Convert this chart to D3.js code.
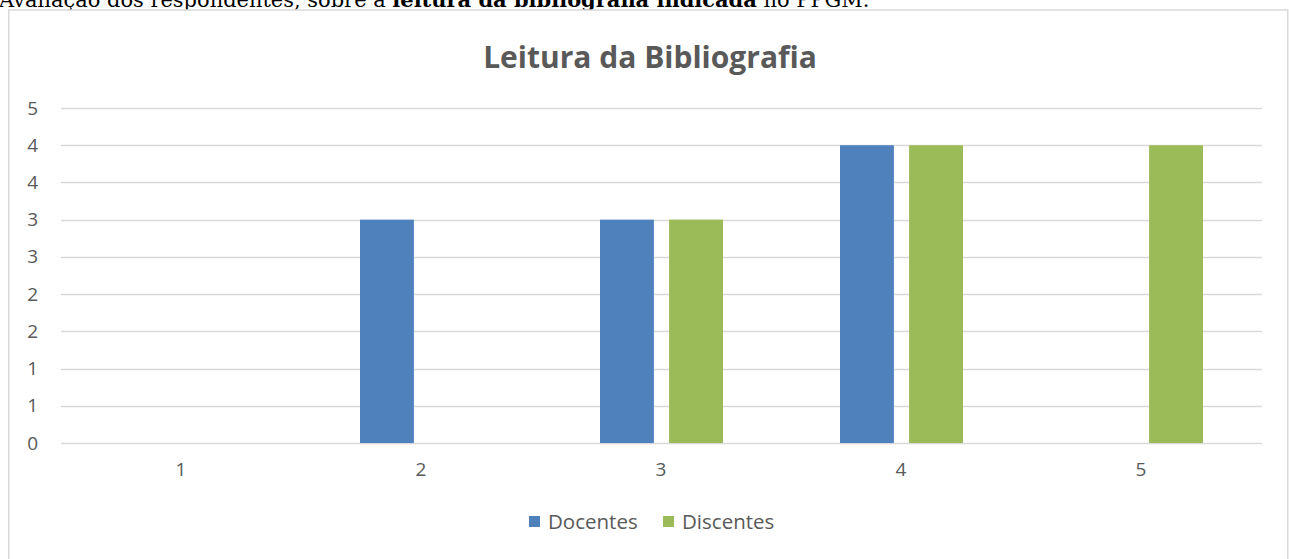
<!DOCTYPE html>
<html><head><meta charset="utf-8">
<script src="https://cdn.jsdelivr.net/npm/d3@7"></script>
<style>
html,body{margin:0;padding:0;background:#fff;overflow:hidden}
svg{display:block}
</style></head>
<body>
<svg id="c" width="1289" height="559"></svg>
<script>
const categories = ["1","2","3","4","5"];
const seriesNames = ["Docentes","Discentes"];
const docentes = [0,3,3,4,0];
const discentes = [0,0,3,4,4];
const yTicks = [0,0.5,1,1.5,2,2.5,3,3.5,4,4.5];
const yTickLabels = ["0","1","1","2","2","3","3","4","4","5"];
const colors = ["#4f81bd","#9bbb59"];
const title = "Leitura da Bibliografia";

const svg = d3.select("#c");
const font = "'Open Sans', sans-serif";

// document heading (cut off at top, as in the source page)
const head = svg.append("text").attr("x",-1).attr("y",7)
  .attr("font-family","'DejaVu Serif', serif").attr("font-size",20).attr("fill","#000");
head.append("tspan").text("Avaliação dos respondentes, sobre a ");
head.append("tspan").attr("font-weight","bold").text("leitura da bibliografia indicada");
head.append("tspan").text(" no PPGM.");
const hl = head.node().getComputedTextLength();
if (hl > 0) head.attr("font-size", 20 * 871 / hl);

// chart border
svg.append("rect").attr("x",8.75).attr("y",10).attr("width",1279).attr("height",560)
  .attr("fill","#fff").attr("stroke","#d9d9d9").attr("stroke-width",1.5);

const x0 = d3.scaleBand().domain(categories).range([61,1261]);
const x1 = d3.scaleBand().domain(seriesNames).range([x0.bandwidth()/2-61, x0.bandwidth()/2+62]).paddingInner(0.22);
const y = d3.scaleLinear().domain([0,4.5]).range([443,108]);

// gridlines
svg.append("g").selectAll("line").data(yTicks).join("line")
  .attr("x1",61).attr("x2",1262)
  .attr("y1",d=>Math.round(y(d))+0.5).attr("y2",d=>Math.round(y(d))+0.5)
  .attr("stroke","#d9d9d9").attr("stroke-width",1.3);

// y axis labels
const yAxis = d3.axisLeft(y).tickValues(yTicks).tickSize(0).tickPadding(0)
  .tickFormat((d,i)=>yTickLabels[i]);
const gy = svg.append("g").attr("transform","translate(38,0)").call(yAxis);
gy.select(".domain").remove();
gy.selectAll("text").attr("font-family",font).attr("font-size",19).attr("fill","#595959");

// x axis labels
const xAxis = d3.axisBottom(x0).tickSize(0).tickPadding(0);
const gx = svg.append("g").attr("transform","translate(0,462)").call(xAxis);
gx.select(".domain").remove();
gx.selectAll("text").attr("font-family",font).attr("font-size",19).attr("fill","#595959");

// bars
const data = categories.map((c,i)=>({cat:c, vals:[{s:"Docentes",v:docentes[i]},{s:"Discentes",v:discentes[i]}]}));
svg.append("g").selectAll("g").data(data).join("g")
  .attr("transform",d=>`translate(${x0(d.cat)},0)`)
  .selectAll("rect").data(d=>d.vals.filter(v=>v.v>0)).join("rect")
  .attr("x",d=>x1(d.s)).attr("width",x1.bandwidth())
  .attr("y",d=>y(d.v)).attr("height",d=>y(0)-y(d.v))
  .attr("fill",(d)=>colors[seriesNames.indexOf(d.s)]);

// title
svg.append("text").attr("x",650).attr("y",68).attr("text-anchor","middle")
  .attr("font-family",font).attr("font-weight","bold").attr("font-size",30)
  .attr("fill","#595959").text(title);

// legend
const legendX = [529,663];
const lg = svg.append("g").selectAll("g").data(seriesNames).join("g")
  .attr("transform",(d,i)=>`translate(${legendX[i]},516)`);
lg.append("rect").attr("width",11).attr("height",11).attr("fill",(d,i)=>colors[i]);
lg.append("text").attr("x",19).attr("y",13).attr("font-family",font).attr("font-size",20.5)
  .attr("fill","#595959").text(d=>d);
</script>
</body></html>
